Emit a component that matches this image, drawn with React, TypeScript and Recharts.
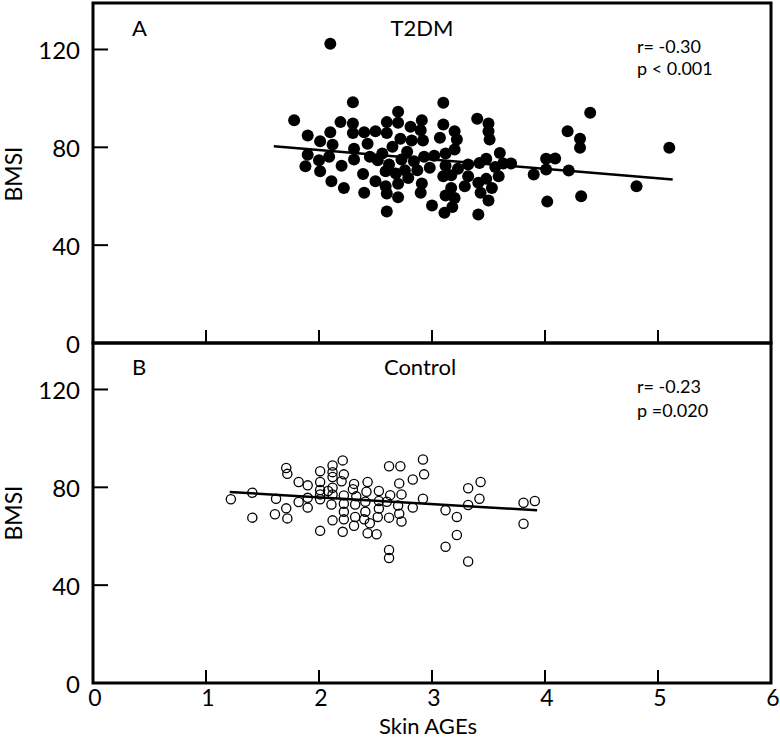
import React from 'react';
import { ScatterChart, Scatter, XAxis, YAxis, ReferenceArea } from 'recharts';

const FONT = "Lato, 'Open Sans', sans-serif";

const xTicks = [0, 1, 2, 3, 4, 5, 6];
const yTicks = [0, 40, 80, 120];

// Panel A: T2DM
const t2dmSkinAges = [
  2.10, 2.30, 1.78, 2.19, 2.30, 2.70, 2.60, 2.70, 2.91, 2.81, 2.90, 1.90, 2.10, 2.30, 2.40, 2.50, 2.60,
  2.01, 2.12, 2.43, 2.72, 2.82, 2.92, 2.65, 2.31, 1.90, 2.09, 2.45, 2.56, 2.52, 2.78, 2.73, 2.84, 2.93,
  3.02, 2.00, 2.31, 1.88, 2.20, 2.01, 2.62, 2.59, 2.68, 2.76, 2.87, 2.98, 2.39, 2.79, 2.11, 2.50, 2.91,
  2.70, 2.22, 2.59, 2.40, 2.60, 2.90, 2.70, 3.00, 2.60, 3.10, 4.40, 3.10, 3.40, 3.50, 3.20, 3.50, 4.20,
  3.07, 3.22, 3.51, 4.31, 4.31, 5.10, 3.20, 3.12, 3.60, 3.48, 3.42, 3.32, 3.12, 3.56, 3.63, 3.70, 4.01,
  4.09, 3.23, 4.01, 4.21, 3.90, 3.10, 3.17, 3.32, 3.59, 3.48, 3.41, 3.29, 3.17, 3.53, 3.43, 3.12, 3.20,
  3.50, 4.32, 4.81, 4.02, 3.18, 3.11, 3.41,
];
const t2dmBmsi = [
  122.3, 98.4, 91.1, 90.3, 89.7, 94.5, 90.3, 90.0, 91.1, 88.4, 87.0, 84.8, 86.2, 85.9, 86.2, 86.6, 85.9,
  82.5, 81.1, 81.5, 83.5, 82.8, 82.8, 80.2, 79.4, 77.0, 76.1, 76.1, 77.5, 74.7, 78.2, 75.0, 74.3, 76.1,
  76.6, 74.7, 75.0, 72.3, 72.5, 70.2, 73.0, 70.2, 69.3, 70.6, 70.6, 71.6, 69.1, 67.5, 66.1, 66.1, 65.2,
  65.1, 63.4, 64.1, 61.4, 61.1, 61.4, 59.6, 56.2, 53.8, 98.2, 94.1, 89.3, 91.7, 89.7, 86.6, 86.6, 86.6,
  83.9, 83.2, 83.2, 83.5, 79.8, 79.8, 79.1, 77.5, 77.7, 75.3, 73.6, 73.0, 72.5, 72.0, 73.4, 73.4, 75.3,
  75.4, 71.2, 70.9, 70.5, 68.9, 68.2, 68.6, 68.2, 68.2, 67.1, 65.5, 64.1, 63.4, 63.4, 61.4, 60.3, 59.3,
  58.3, 60.0, 64.1, 57.8, 55.6, 53.2, 52.5,
];
const t2dmFitX = [1.6, 5.13];
const t2dmFitY = [80.4, 66.8];

// Panel B: Control
const controlSkinAges = [
  1.71, 1.72, 1.82, 1.90, 2.01, 2.01, 2.12, 2.12, 2.12, 2.12, 2.01, 2.01, 2.01, 2.08, 2.12, 1.22, 1.41,
  1.62, 1.82, 1.90, 1.90, 1.71, 1.41, 1.61, 1.72, 2.11, 2.12, 2.01, 2.21, 2.22, 2.20, 2.31, 2.43, 2.62,
  2.72, 2.92, 2.93, 2.83, 2.71, 2.22, 2.30, 2.33, 2.42, 2.53, 2.63, 2.73, 2.22, 2.32, 2.41, 2.53, 2.60,
  2.70, 2.92, 2.22, 2.32, 2.41, 2.53, 2.83, 2.71, 2.22, 2.31, 2.40, 2.45, 2.52, 2.62, 2.73, 2.21, 2.43,
  2.51, 2.62, 2.62, 3.12, 3.22, 3.22, 3.12, 3.32, 3.32, 3.43, 3.42, 3.32, 3.81, 3.91, 3.81,
];
const controlBmsi = [
  87.9, 85.5, 82.2, 80.8, 86.6, 82.2, 88.9, 86.2, 84.2, 79.8, 78.9, 77.1, 75.1, 78.5, 77.1, 75.1, 77.8,
  75.3, 74.0, 75.7, 71.7, 71.4, 67.6, 69.0, 67.3, 73.0, 66.5, 62.2, 91.0, 85.3, 82.5, 81.4, 82.2, 88.6,
  88.6, 91.4, 85.3, 83.2, 81.6, 76.7, 79.2, 76.3, 78.2, 78.5, 76.8, 77.1, 73.3, 73.0, 74.1, 74.4, 74.1,
  72.6, 75.3, 70.0, 67.9, 70.0, 71.3, 71.7, 69.2, 66.9, 64.3, 66.9, 65.3, 67.9, 67.6, 66.0, 61.8, 61.2,
  60.8, 54.4, 51.1, 70.6, 67.9, 60.5, 55.7, 49.7, 79.6, 82.2, 75.3, 72.8, 73.7, 74.4, 65.1,
];
const controlFitX = [1.21, 3.93];
const controlFitY = [78.1, 70.6];

const toPts = (xs: number[], ys: number[]) => xs.map((x, i) => ({ x, y: ys[i] }));

const t2dmData = toPts(t2dmSkinAges, t2dmBmsi);
const t2dmFit = toPts(t2dmFitX, t2dmFitY);
const controlData = toPts(controlSkinAges, controlBmsi);
const controlFit = toPts(controlFitX, controlFitY);

const makeXTick = (showLabel: boolean) => (props: any) => {
  const { x, y, payload } = props;
  const v = payload.value;
  return (
    <g>
      {v > 0 && v < 6 && (
        <line x1={x} x2={x} y1={y} y2={y - 13} stroke="#000" strokeWidth={2} />
      )}
      {showLabel && (
        <text x={x + 2} y={y + 23} textAnchor="middle" fontSize={23} fontFamily={FONT} fill="#000">
          {v}
        </text>
      )}
    </g>
  );
};

const YTick = (props: any) => {
  const { x, y, payload } = props;
  const v = payload.value;
  return (
    <g>
      {v > 0 && <line x1={x} x2={x + 15} y1={y} y2={y} stroke="#000" strokeWidth={2} />}
      <text x={x - 13} y={y + 10} textAnchor="end" fontSize={24} fontFamily={FONT} fill="#000">
        {v}
      </text>
    </g>
  );
};

const FilledDot = (props: any) => <circle cx={props.cx} cy={props.cy} r={6} fill="#000" />;
const OpenDot = (props: any) => (
  <circle cx={props.cx} cy={props.cy} r={4.6} fill="none" stroke="#000" strokeWidth={1.3} />
);
const NoDot = () => <g />;

function Panel(p: { data: any[]; fit: any[]; top: number; bottom: number; filled: boolean; labels: boolean }) {
  return (
    <div style={{ position: 'absolute', left: 0, top: 0 }}>
      <ScatterChart width={780} height={740} margin={{ top: p.top, right: 9, bottom: p.bottom, left: 0 }}>
        <XAxis
          type="number"
          dataKey="x"
          domain={[0, 6]}
          ticks={xTicks}
          interval={0}
          height={2}
          axisLine={false}
          tickLine={false}
          tickSize={0}
          tickMargin={0}
          tick={makeXTick(p.labels)}
          allowDataOverflow
        />
        <YAxis
          type="number"
          dataKey="y"
          domain={[0, 139]}
          ticks={yTicks}
          interval={0}
          width={93}
          axisLine={false}
          tickLine={false}
          tickSize={0}
          tickMargin={0}
          tick={YTick}
          allowDataOverflow
        />
        <ReferenceArea x1={0} x2={6} y1={0} y2={139} stroke="#000" strokeWidth={3} fill="none" fillOpacity={0} ifOverflow="visible" />
        <Scatter data={p.fit} line={{ stroke: '#000', strokeWidth: 2.5 }} shape={NoDot} isAnimationActive={false} />
        <Scatter data={p.data} shape={p.filled ? FilledDot : OpenDot} isAnimationActive={false} />
      </ScatterChart>
    </div>
  );
}

export default function App() {
  const t = { fontFamily: FONT, fill: '#000' };
  return (
    <div style={{ position: 'absolute', left: 0, top: 0, width: 780, height: 740, background: '#fff' }}>
      <Panel data={t2dmData} fit={t2dmFit} top={3} bottom={395} filled={true} labels={false} />
      <Panel data={controlData} fit={controlFit} top={343} bottom={55} filled={false} labels={true} />
      <svg width={780} height={740} style={{ position: 'absolute', left: 0, top: 0, pointerEvents: 'none' }}>
        <text {...t} x={132} y={36} fontSize={22}>A</text>
        <text {...t} x={422} y={36} fontSize={22} textAnchor="middle">T2DM</text>
        <text {...t} x={637} y={53} fontSize={18}>r= -0.30</text>
        <text {...t} x={637} y={75} fontSize={18}>p &lt; 0.001</text>
        <text {...t} x={132} y={375} fontSize={22}>B</text>
        <text {...t} x={420} y={375} fontSize={22} textAnchor="middle">Control</text>
        <text {...t} x={637} y={393} fontSize={18}>r= -0.23</text>
        <text {...t} x={637} y={417} fontSize={18}>p =0.020</text>
        <text {...t} x={0} y={0} fontSize={23} textAnchor="middle" transform="translate(22,174) rotate(-90)">BMSI</text>
        <text {...t} x={0} y={0} fontSize={23} textAnchor="middle" transform="translate(22,513) rotate(-90)">BMSI</text>
        <text {...t} x={428} y={734} fontSize={22} textAnchor="middle">Skin AGEs</text>
      </svg>
    </div>
  );
}
